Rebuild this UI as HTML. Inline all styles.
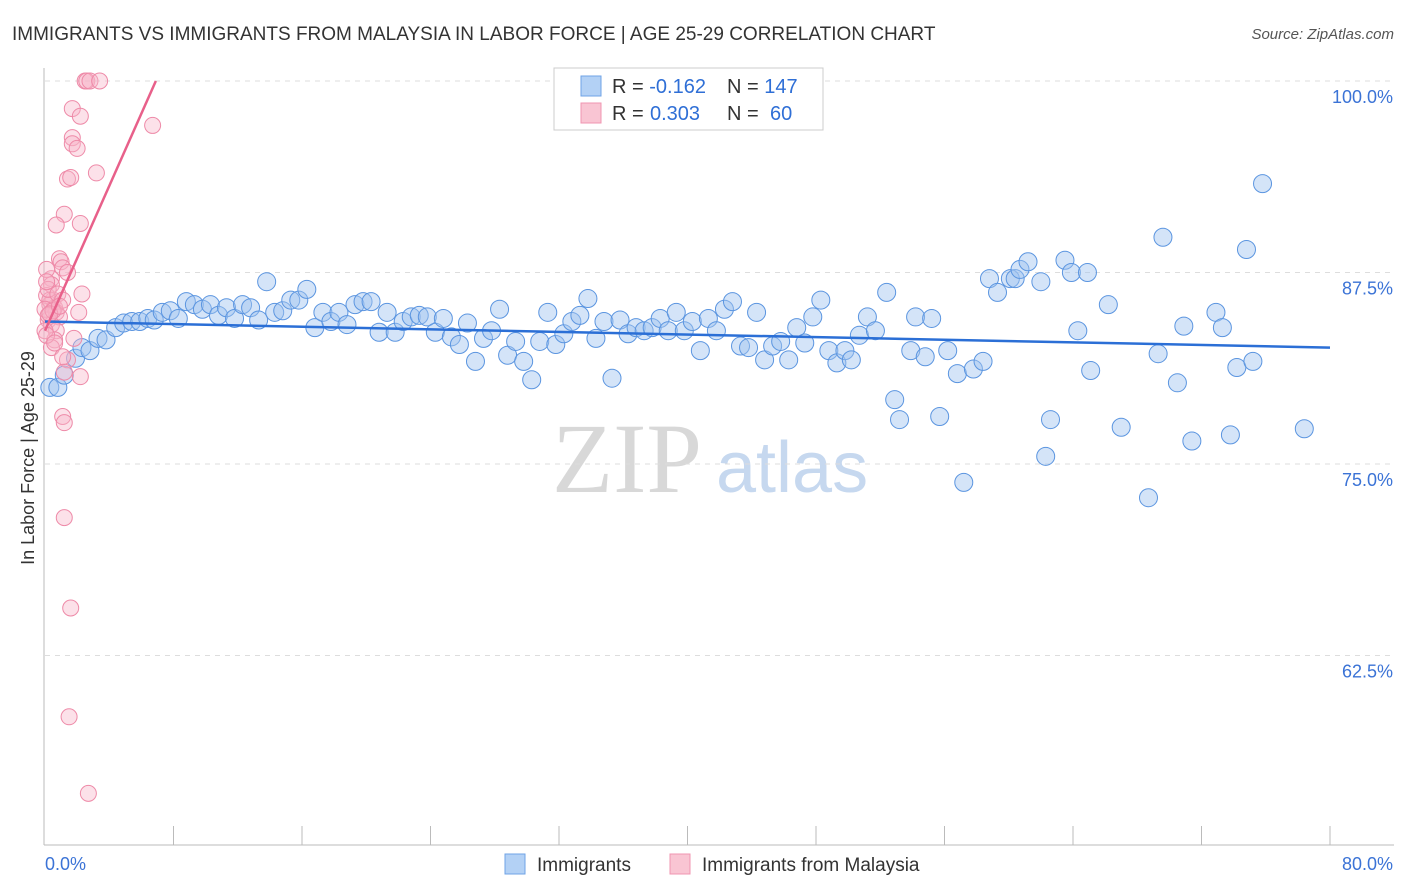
<!DOCTYPE html>
<html><head><meta charset="utf-8"><style>
body{margin:0;background:#fff;font-family:"Liberation Sans",sans-serif;}
svg{display:block}
</style></head><body>
<svg id="chart" width="1406" height="892">
<text x="12" y="40" font-size="19" fill="#333">IMMIGRANTS VS IMMIGRANTS FROM MALAYSIA IN LABOR FORCE | AGE 25-29 CORRELATION CHART</text>
<text x="1394" y="39" font-size="15" fill="#555" font-style="italic" text-anchor="end">Source: ZipAtlas.com</text>
<text x="34" y="458" font-size="18" fill="#333" text-anchor="middle" transform="rotate(-90 34 458)">In Labor Force | Age 25-29</text>
<g>
<text x="552" y="492" font-size="100" fill="#d8d8d8" font-family="Liberation Serif,serif">ZIP</text>
<text x="716" y="492" font-size="72" fill="#c6d8ef">atlas</text>
</g>
<g id="grid"></g><g id="axes"></g><g id="pts"></g><g id="trends"></g>
<g>
<rect x="554" y="68" width="269" height="62" fill="#fff" stroke="#ccc"/>
<rect x="581" y="76" width="20" height="20" fill="#b3d1f5" stroke="#6fa3e6"/>
<rect x="581" y="103" width="20" height="20" fill="#f9c5d3" stroke="#f095b0"/>
<text x="612" y="93" font-size="20" fill="#333">R = <tspan fill="#2f6fd6">-0.162</tspan><tspan x="727">N = </tspan><tspan fill="#2f6fd6">147</tspan></text>
<text x="612" y="120" font-size="20" fill="#333">R = <tspan fill="#2f6fd6" x="650">0.303</tspan><tspan x="727">N = </tspan><tspan fill="#2f6fd6" x="770">60</tspan></text>
</g>
<g>
<rect x="505" y="854" width="20" height="20" fill="#b3d1f5" stroke="#6fa3e6"/>
<text x="537" y="871" font-size="19" fill="#333">Immigrants</text>
<rect x="670" y="854" width="20" height="20" fill="#f9c5d3" stroke="#f095b0"/>
<text x="702" y="871" font-size="19" fill="#333">Immigrants from Malaysia</text>
</g>
</svg>
<script>
const yTicks=[100,87.5,75,62.5];
const yTickLabels=["100.0%","87.5%","75.0%","62.5%"];
const xTickLabels=["0.0%","80.0%"];
const blueX=[0.3,0.8,1.2,1.9,2.3,2.8,3.3,3.8,4.4,4.9,5.4,5.9,6.4,6.8,7.3,7.8,8.3,8.8,9.3,9.8,10.3,10.8,11.3,11.8,12.3,12.8,13.3,13.8,14.3,14.8,15.3,15.8,16.3,16.8,17.3,17.8,18.3,18.8,19.3,19.8,20.3,20.8,21.3,21.8,22.3,22.8,23.3,23.8,24.3,24.8,25.3,25.8,26.3,26.8,27.3,27.8,28.3,28.8,29.3,29.8,30.3,30.8,31.3,31.8,32.3,32.8,33.3,33.8,34.3,34.8,35.3,35.8,36.3,36.8,37.3,37.8,38.3,38.8,39.3,39.8,40.3,40.8,41.3,41.8,42.3,42.8,43.3,43.8,44.3,44.8,45.3,45.8,46.3,46.8,47.3,47.8,48.3,48.8,49.3,49.8,50.2,50.7,51.2,51.7,52.4,52.9,53.2,53.9,54.2,54.8,55.2,55.7,56.2,56.8,57.2,57.8,58.4,58.8,59.3,60.1,60.4,60.7,61.2,62.0,62.3,62.6,63.5,63.9,64.3,64.9,65.1,66.2,67.0,68.7,69.3,69.6,70.5,70.9,71.4,72.9,73.3,73.8,74.2,74.8,75.2,75.8,78.4];
const blueY=[80.0,80.0,80.8,81.9,82.6,82.4,83.2,83.1,83.9,84.2,84.3,84.3,84.5,84.4,84.9,85.0,84.5,85.6,85.4,85.1,85.4,84.7,85.2,84.5,85.4,85.2,84.4,86.9,84.9,85.0,85.7,85.7,86.4,83.9,84.9,84.3,84.9,84.1,85.4,85.6,85.6,83.6,84.9,83.6,84.3,84.6,84.7,84.6,83.6,84.5,83.3,82.8,84.2,81.7,83.2,83.7,85.1,82.1,83.0,81.7,80.5,83.0,84.9,82.8,83.5,84.3,84.7,85.8,83.2,84.3,80.6,84.4,83.5,83.9,83.7,83.9,84.5,83.7,84.9,83.7,84.3,82.4,84.5,83.7,85.1,85.6,82.7,82.6,84.9,81.8,82.7,83.0,81.8,83.9,82.9,84.6,85.7,82.4,81.6,82.4,81.8,83.4,84.6,83.7,86.2,79.2,77.9,82.4,84.6,82.0,84.5,78.1,82.4,80.9,73.8,81.2,81.7,87.1,86.2,87.1,87.1,87.7,88.2,86.9,75.5,77.9,88.3,87.5,83.7,87.5,81.1,85.4,77.4,72.8,82.2,89.8,80.3,84.0,76.5,84.9,83.9,76.9,81.3,89.0,81.7,93.3,77.3];
const pinkX=[2.5,2.6,2.8,3.4,1.7,2.2,1.7,1.7,2.0,1.4,1.6,3.2,6.7,1.2,0.7,2.2,0.9,1.0,1.1,1.4,0.4,0.4,2.3,0.5,0.3,0.6,0.7,0.9,2.1,0.2,0.4,0.7,0.6,1.8,0.4,1.4,1.2,2.2,1.1,1.2,1.2,1.6,1.5,2.7,0.1,0.3,0.0,0.2,0.0,0.1,0.6,1.1,0.2,0.8,1.1,0.1,0.1,0.5,0.3,0.9];
const pinkY=[100,100,100,100,98.2,97.7,96.3,95.9,95.6,93.6,93.7,94.0,97.1,91.3,90.6,90.7,88.4,88.2,87.8,87.5,87.1,86.7,86.1,85.7,85.4,85.2,84.9,84.6,84.9,84.4,84.1,83.7,83.1,83.2,82.6,81.8,81.0,80.7,78.1,77.7,71.5,65.6,58.5,53.5,86.0,85.7,85.1,84.7,83.7,83.4,82.9,82.0,86.4,86.1,85.7,87.7,86.9,85.0,84.8,85.3];
const blueTrend=[[0,84.3],[80,82.6]];
const pinkTrend=[[0,83.7],[6.9,100]];
const NS="http://www.w3.org/2000/svg";
const X=v=>45+v/80*1285;
const Y=v=>81+(100-v)*15.32;
function mk(t,a,p){const e=document.createElementNS(NS,t);for(const k in a)e.setAttribute(k,a[k]);p.appendChild(e);return e;}
const grid=document.getElementById('grid'),axes=document.getElementById('axes'),pts=document.getElementById('pts'),tr=document.getElementById('trends');
yTicks.forEach((t,i)=>{
 const l=mk('line',{x1:45,x2:1394,y1:Y(t),y2:Y(t),stroke:'#ddd','stroke-dasharray':'5,5'},grid);
 
 
 const tx=mk('text',{x:1393,y:Y(t)+22,'font-size':18,fill:'#3b73d6','text-anchor':'end'},axes);
 tx.textContent=yTickLabels[i];
 
 
});
let a=mk('line',{x1:44,x2:44,y1:68,y2:845,stroke:'#bbb'},axes);


a=mk('line',{x1:44,x2:1394,y1:845,y2:845,stroke:'#bbb'},axes);


for(let i=1;i<=10;i++){const t=mk('line',{x1:X(i*8),x2:X(i*8),y1:826,y2:845,stroke:'#bbb'},axes);
 
 }
let t0=mk('text',{x:45,y:870,'font-size':18,fill:'#3b73d6'},axes);t0.textContent=xTickLabels[0];


let t1=mk('text',{x:1393,y:870,'font-size':18,fill:'#3b73d6','text-anchor':'end'},axes);t1.textContent=xTickLabels[1];


blueX.forEach((v,i)=>{const c=mk('circle',{cx:X(v),cy:Y(blueY[i]),r:9,fill:'rgba(160,196,240,0.45)',stroke:'#5b95e0','stroke-width':1},pts);
 
 });
pinkX.forEach((v,i)=>{const c=mk('circle',{cx:X(v),cy:Y(pinkY[i]),r:8,fill:'rgba(248,180,200,0.4)',stroke:'#ee8aa8','stroke-width':1},pts);
 
 });
let bl=mk('line',{x1:X(blueTrend[0][0]),y1:Y(blueTrend[0][1]),x2:X(blueTrend[1][0]),y2:Y(blueTrend[1][1]),stroke:'#2b6fd6','stroke-width':2.5},tr);


let pl=mk('line',{x1:X(pinkTrend[0][0]),y1:Y(pinkTrend[0][1]),x2:X(pinkTrend[1][0]),y2:Y(pinkTrend[1][1]),stroke:'#e8608a','stroke-width':2.5},tr);


</script>
</body></html>
